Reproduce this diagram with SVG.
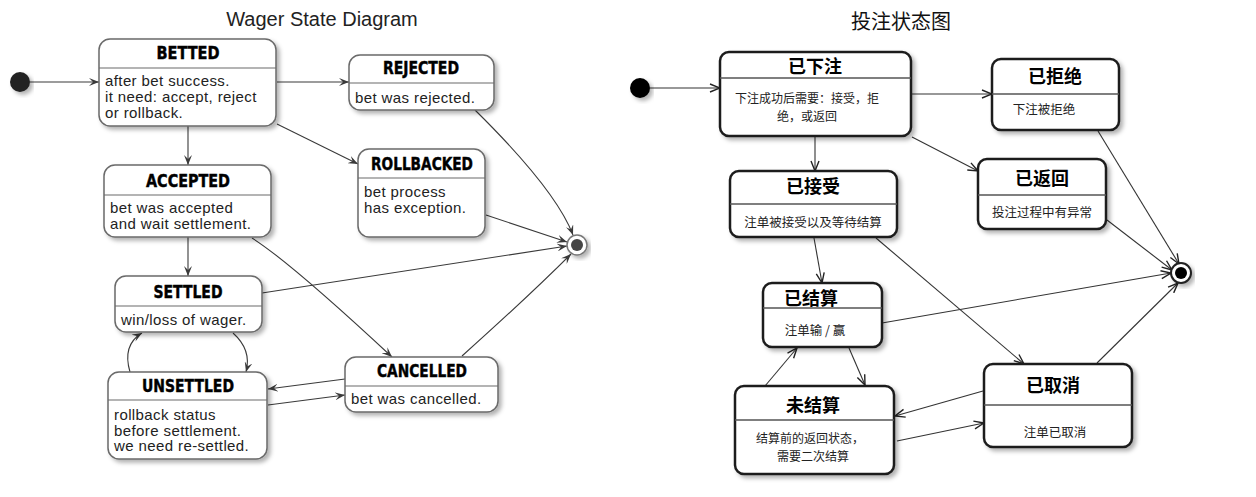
<svg xmlns="http://www.w3.org/2000/svg" width="1256" height="497" viewBox="0 0 1256 497">
<defs>
<filter id="sh" x="-20%" y="-20%" width="140%" height="150%">
<feDropShadow dx="3" dy="3" stdDeviation="2" flood-color="#000" flood-opacity="0.3"/>
</filter>
<marker id="ah" viewBox="0 0 10 8" refX="10" refY="4" markerWidth="10" markerHeight="8" markerUnits="userSpaceOnUse" orient="auto">
<path d="M0,0 L10,4 L0,8 L4,4 Z" fill="#3a3a3a"/>
</marker>
<marker id="av" viewBox="0 0 12 10" refX="11" refY="5" markerWidth="12" markerHeight="10" markerUnits="userSpaceOnUse" orient="auto">
<path d="M1,1 L11,5 L1,9" fill="none" stroke="#222" stroke-width="1.4"/>
</marker>
</defs>
<style>
.lb{fill:#fff;stroke:#6a6a6a;stroke-width:1.5}
.ld{stroke:#6a6a6a;stroke-width:1.2}
.rb{fill:#fff;stroke:#1e1e1e;stroke-width:2.5}
.rd{stroke:#555;stroke-width:1.5}
.lh{font-family:"DejaVu Sans Condensed","DejaVu Sans",sans-serif;font-weight:bold;font-size:17px;fill:#000;stroke:#000;stroke-width:0.4;text-anchor:middle}
.lt{font-family:"Liberation Sans",Arial,sans-serif;font-size:15px;letter-spacing:0.4px;fill:#222}
.rh{font-family:"Noto Sans CJK SC","Noto Sans",sans-serif;font-weight:bold;font-size:18px;fill:#000;text-anchor:middle}
.rt{font-family:"Noto Sans CJK SC","Noto Sans",sans-serif;font-size:12.5px;fill:#222;text-anchor:middle}
.rt2{font-family:"Noto Sans CJK SC","Noto Sans",sans-serif;font-size:12px;fill:#222;text-anchor:middle}
.lc{fill:none;stroke:#3a3a3a;stroke-width:1.1;marker-end:url(#ah)}
.rc{fill:none;stroke:#333;stroke-width:1.1;marker-end:url(#av)}
</style>
<rect width="1256" height="497" fill="#fff"/>

<text x="322" y="26" font-family="Liberation Sans,Arial,sans-serif" font-size="20" fill="#222" text-anchor="middle">Wager State Diagram</text>
<text x="901" y="29" font-family="Noto Sans CJK SC,sans-serif" font-size="20" fill="#111" text-anchor="middle">投注状态图</text>

<g id="left-connectors">
<path class="lc" d="M30,82 L99,82"/>
<path class="lc" d="M277,82 L349,82"/>
<path class="lc" d="M277,124 L358,164"/>
<path class="lc" d="M188,126 L188,165"/>
<path class="lc" d="M475,110 Q556,190 573,235"/>
<path class="lc" d="M486,215 L567,242"/>
<path class="lc" d="M262,293 L567,246"/>
<path class="lc" d="M462,356 Q530,295 571,254"/>
<path class="lc" d="M252,238 Q290,262 392,357"/>
<path class="lc" d="M188,237 L188,276"/>
<path class="lc" d="M233,333 Q252,350 246,372"/>
<path class="lc" d="M130,372 Q122,345 142,333"/>
<path class="lc" d="M345,379 L268,389"/>
<path class="lc" d="M268,405 L345,395"/>
</g>

<g id="l-start"><circle cx="20" cy="82" r="10" fill="#222" filter="url(#sh)"/></g>
<g id="l-end" filter="url(#sh)"><circle cx="577" cy="245" r="10" fill="#fff" stroke="#777" stroke-width="1.5"/><circle cx="577" cy="245" r="6" fill="#444"/></g>

<g id="betted">
<rect class="lb" x="99" y="39" width="177" height="87" rx="11" filter="url(#sh)"/>
<line class="ld" x1="99" y1="68" x2="276" y2="68"/>
<text class="lh" x="188" y="59" textLength="63" lengthAdjust="spacingAndGlyphs">BETTED</text>
<text class="lt" x="105" y="86">after bet success.</text>
<text class="lt" x="105" y="102">it need: accept, reject</text>
<text class="lt" x="105" y="118">or rollback.</text>
</g>
<g id="rejected">
<rect class="lb" x="349" y="55" width="145" height="55" rx="11" filter="url(#sh)"/>
<line class="ld" x1="349" y1="83" x2="494" y2="83"/>
<text class="lh" x="421" y="74" textLength="76" lengthAdjust="spacingAndGlyphs">REJECTED</text>
<text class="lt" x="355" y="103">bet was rejected.</text>
</g>
<g id="rollbacked">
<rect class="lb" x="358" y="149" width="127" height="88" rx="11" filter="url(#sh)"/>
<line class="ld" x1="358" y1="178" x2="485" y2="178"/>
<text class="lh" x="422" y="170" textLength="102" lengthAdjust="spacingAndGlyphs">ROLLBACKED</text>
<text class="lt" x="364" y="197">bet process</text>
<text class="lt" x="364" y="213">has exception.</text>
</g>
<g id="accepted">
<rect class="lb" x="104" y="165" width="167" height="72" rx="11" filter="url(#sh)"/>
<line class="ld" x1="104" y1="195" x2="271" y2="195"/>
<text class="lh" x="188" y="187" textLength="84" lengthAdjust="spacingAndGlyphs">ACCEPTED</text>
<text class="lt" x="110" y="213">bet was accepted</text>
<text class="lt" x="110" y="229">and wait settlement.</text>
</g>
<g id="settled">
<rect class="lb" x="115" y="276" width="147" height="56" rx="11" filter="url(#sh)"/>
<line class="ld" x1="115" y1="306" x2="262" y2="306"/>
<text class="lh" x="188" y="298" textLength="69" lengthAdjust="spacingAndGlyphs">SETTLED</text>
<text class="lt" x="121" y="325">win/loss of wager.</text>
</g>
<g id="unsettled">
<rect class="lb" x="108" y="372" width="159" height="87" rx="11" filter="url(#sh)"/>
<line class="ld" x1="108" y1="400" x2="267" y2="400"/>
<text class="lh" x="188" y="392" textLength="92" lengthAdjust="spacingAndGlyphs">UNSETTLED</text>
<text class="lt" x="114" y="420">rollback status</text>
<text class="lt" x="114" y="436">before settlement.</text>
<text class="lt" x="114" y="451">we need re-settled.</text>
</g>
<g id="cancelled">
<rect class="lb" x="345" y="357" width="153" height="55" rx="11" filter="url(#sh)"/>
<line class="ld" x1="345" y1="386" x2="498" y2="386"/>
<text class="lh" x="422" y="377" textLength="90" lengthAdjust="spacingAndGlyphs">CANCELLED</text>
<text class="lt" x="351" y="404">bet was cancelled.</text>
</g>

<g id="right-connectors">
<path class="rc" d="M650,88 L720,88"/>
<path class="rc" d="M911,94 L992,94"/>
<path class="rc" d="M912,137 L978,171"/>
<path class="rc" d="M815,136 L815,171"/>
<path class="rc" d="M1098,131 L1179,264"/>
<path class="rc" d="M1107,220 L1172,270"/>
<path class="rc" d="M882,323 L1171,273"/>
<path class="rc" d="M1097,363 L1178,283"/>
<path class="rc" d="M876,238 L1024,364"/>
<path class="rc" d="M814,238 L822,283"/>
<path class="rc" d="M849,348 L865,385"/>
<path class="rc" d="M765,386 L797,348"/>
<path class="rc" d="M983,391 L895,416"/>
<path class="rc" d="M897,441 L984,423"/>
</g>

<g id="r-start"><circle cx="640" cy="88" r="10" fill="#000" filter="url(#sh)"/></g>
<g id="r-end" filter="url(#sh)"><circle cx="1181" cy="273" r="10" fill="#fff" stroke="#222" stroke-width="2"/><circle cx="1181" cy="273" r="6" fill="#000"/></g>

<g id="yixiazhu">
<rect class="rb" x="720" y="52" width="191" height="84" rx="9" filter="url(#sh)"/>
<line class="rd" x1="720" y1="78" x2="911" y2="78"/>
<text class="rh" x="815" y="73">已下注</text>
<text class="rt2" x="807" y="103">下注成功后需要：接受，拒</text>
<text class="rt2" x="807" y="121">绝，或返回</text>
</g>
<g id="yijujue">
<rect class="rb" x="992" y="59" width="127" height="71" rx="9" filter="url(#sh)"/>
<line class="rd" x1="992" y1="94" x2="1119" y2="94"/>
<text class="rh" x="1055" y="83">已拒绝</text>
<text class="rt" x="1044" y="114">下注被拒绝</text>
</g>
<g id="yifanhui">
<rect class="rb" x="978" y="159" width="128" height="70" rx="9" filter="url(#sh)"/>
<line class="rd" x1="978" y1="195" x2="1106" y2="195"/>
<text class="rh" x="1042" y="185">已返回</text>
<text class="rt" x="1042" y="217">投注过程中有异常</text>
</g>
<g id="yijieshou">
<rect class="rb" x="730" y="171" width="167" height="66" rx="9" filter="url(#sh)"/>
<line class="rd" x1="730" y1="204" x2="897" y2="204"/>
<text class="rh" x="813" y="193">已接受</text>
<text class="rt" x="813" y="227">注单被接受以及等待结算</text>
</g>
<g id="yijiesuan">
<rect class="rb" x="763" y="283" width="119" height="64" rx="9" filter="url(#sh)"/>
<line class="rd" x1="763" y1="308" x2="882" y2="308"/>
<text class="rh" x="811" y="305">已结算</text>
<text class="rt" x="815" y="335">注单输 / 赢</text>
</g>
<g id="weijiesuan">
<rect class="rb" x="735" y="386" width="159" height="88" rx="9" filter="url(#sh)"/>
<line class="rd" x1="735" y1="420" x2="894" y2="420"/>
<text class="rh" x="813" y="412">未结算</text>
<text class="rt2" x="810" y="443">结算前的返回状态，</text>
<text class="rt2" x="813" y="461">需要二次结算</text>
</g>
<g id="yiquxiao">
<rect class="rb" x="984" y="364" width="148" height="83" rx="9" filter="url(#sh)"/>
<line class="rd" x1="984" y1="405" x2="1132" y2="405"/>
<text class="rh" x="1053" y="392">已取消</text>
<text class="rt" x="1055" y="437">注单已取消</text>
</g>
</svg>
